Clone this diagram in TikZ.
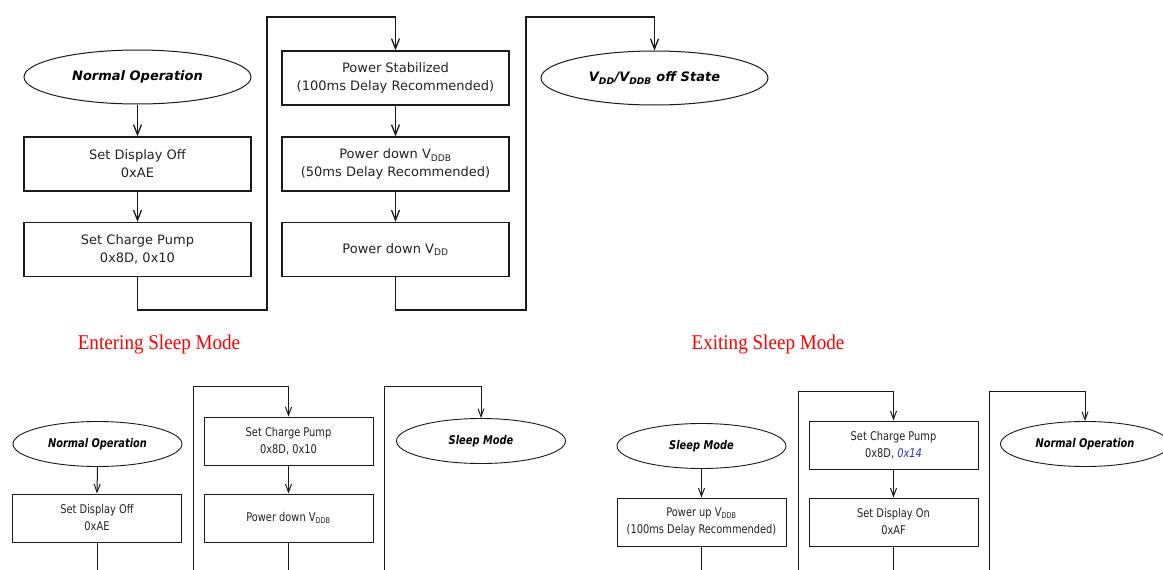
\documentclass[tikz,border=0pt]{standalone}
\usepackage{fontspec}
\setmainfont{DejaVu Sans}
\newfontfamily\condfont[FakeStretch=0.82]{DejaVu Sans}
\newfontfamily\redfont[FakeStretch=0.91]{Liberation Serif}
\usetikzlibrary{arrows.meta,shapes.geometric}
\definecolor{txt}{HTML}{222222}
\definecolor{lnc}{HTML}{1A1A1A}
\definecolor{bluetxt}{HTML}{2A2ACC}
\tikzset{
  topbox/.style={draw=lnc, line width=1.3pt, rectangle, inner sep=0pt, minimum width=227pt, minimum height=54pt, align=center, text=txt, font=\fontsize{13}{18}\selectfont},
  topell/.style={draw=lnc, line width=1pt, ellipse, inner sep=0pt, minimum width=227pt, minimum height=54pt, text=black, font=\fontsize{13}{16}\selectfont\bfseries\itshape},
  botbox/.style={draw=lnc, line width=1pt, rectangle, inner sep=0pt, minimum width=169pt, minimum height=48pt, align=center, text=txt, font=\condfont\fontsize{12}{17}\selectfont},
  botell/.style={draw=lnc, line width=0.9pt, ellipse, inner sep=0pt, minimum width=169pt, minimum height=45pt, text=black, font=\condfont\fontsize{12}{15}\selectfont\bfseries\itshape},
  toparr/.style={draw=lnc, line width=1.3pt, -{Straight Barb[length=10pt,width=8pt]}},
  topln/.style={draw=lnc, line width=1.3pt},
  botarr/.style={draw=lnc, line width=1pt, -{Straight Barb[length=8pt,width=6pt]}},
  botln/.style={draw=lnc, line width=1pt},
  redlab/.style={text=red, anchor=base, inner sep=0pt, font=\redfont\fontsize{21}{24}\selectfont}
}
\begin{document}
\begin{tikzpicture}[x=1pt,y=-1pt]
\useasboundingbox (0,0) rectangle (1163,570);
% ---------- top flow ----------
\node[topell] (e1) at (137.5,77) {Normal Operation};
\node[topbox] (b1) at (137.5,164) {Set Display Off\\0xAE};
\node[topbox] (b2) at (137.5,249.5) {Set Charge Pump\\0x8D, 0x10};
\node[topbox] (b3) at (395.5,78) {Power Stabilized\\(100ms Delay Recommended)};
\node[topbox] (b4) at (395.5,164) {Power down V\textsubscript{DDB}\\(50ms Delay Recommended)};
\node[topbox] (b5) at (395.5,249.5) {Power down V\textsubscript{DD}};
\node[topell] (e2) at (654.5,78) {V\textsubscript{DD}/V\textsubscript{DDB} off State};
\draw[toparr] (e1.south) -- (b1.north);
\draw[toparr] (b1.south) -- (b2.north);
\draw[toparr] (b2.south) -- (b2.south |- 0,310) -| (267,17) -| (b3.north);
\draw[toparr] (b3.south) -- (b4.north);
\draw[toparr] (b4.south) -- (b5.north);
\draw[toparr] (b5.south) -- (b5.south |- 0,310) -| (526,17) -| (e2.north);
% ---------- labels ----------
\node[redlab] (l1) at (159,349) {Entering Sleep Mode};
\node[redlab] (l2) at (768,349) {Exiting Sleep Mode};
% ---------- bottom left ----------
\node[botell] (e3) at (97.5,444) {Normal Operation};
\node[botbox] (b6) at (97,518) {Set Display Off\\0xAE};
\node[botbox] (b7) at (288.5,441) {Set Charge Pump\\0x8D, 0x10};
\node[botbox] (b8) at (288.5,518) {Power down V\textsubscript{DDB}};
\node[botell] (e4) at (481,441) {Sleep Mode};
\coordinate (t6) at (97,575);
\coordinate (s7) at (193,575);
\coordinate (t8) at (288.5,575);
\coordinate (s4) at (384,575);
\draw[botarr] (e3.south) -- (b6.north);
\draw[botln] (b6.south) -- (t6);
\draw[botarr] (s7) -- (193,386) -| (b7.north);
\draw[botarr] (b7.south) -- (b8.north);
\draw[botln] (b8.south) -- (t8);
\draw[botarr] (s4) -- (384,386) -| (e4.north);
% ---------- bottom right ----------
\node[botell] (e5) at (701.5,446) {Sleep Mode};
\node[botbox] (b9) at (701.5,522) {Power up V\textsubscript{DDB}\\(100ms Delay Recommended)};
\node[botbox] (b10) at (893.5,445) {Set Charge Pump\\0x8D, {\color{bluetxt}\itshape 0x14}};
\node[botbox] (b11) at (893.5,522) {Set Display On\\0xAF};
\node[botell] (e6) at (1085,444) {Normal Operation};
\coordinate (t9) at (701.5,575);
\coordinate (s10) at (798,575);
\coordinate (t11) at (893.5,575);
\coordinate (s6) at (989,575);
\draw[botarr] (e5.south) -- (b9.north);
\draw[botln] (b9.south) -- (t9);
\draw[botarr] (s10) -- (798,391) -| (b10.north);
\draw[botarr] (b10.south) -- (b11.north);
\draw[botln] (b11.south) -- (t11);
\draw[botarr] (s6) -- (989,391) -| (e6.north);
\end{tikzpicture}
\end{document}
